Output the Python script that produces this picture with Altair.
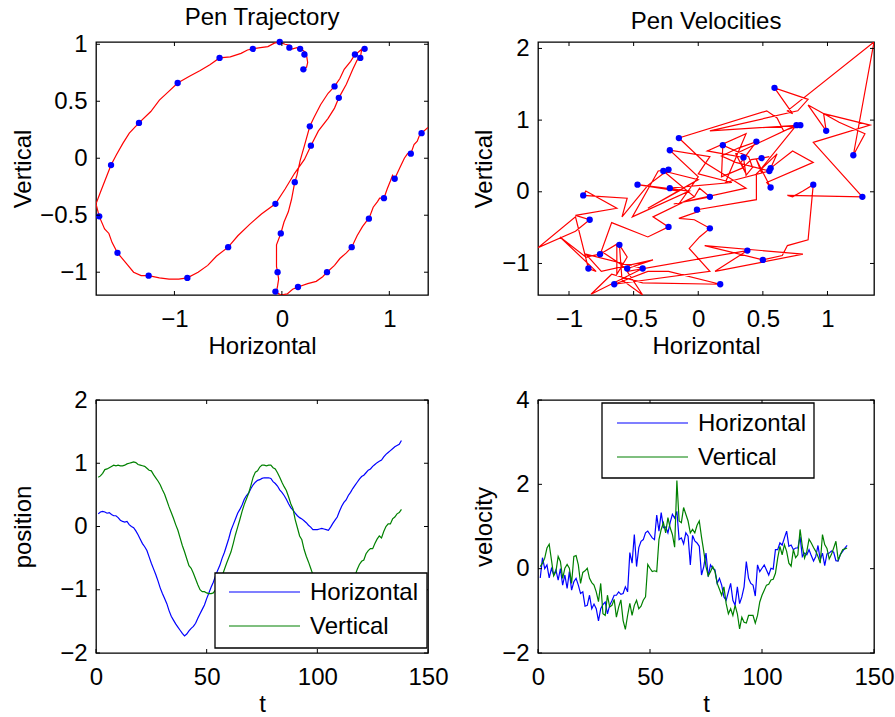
import altair as alt
import pandas as pd

# Sample index of the recorded pen stroke
t = list(range(1, 139))

# Pen position (horizontal / vertical)
pos_h = [0.20, 0.23, 0.24, 0.23, 0.21, 0.22, 0.19, 0.17, 0.17, 0.14,
         0.10, 0.08, 0.07, 0.08, 0.03, 0.00, -0.02, -0.07, -0.13, -0.20,
         -0.27, -0.32, -0.38, -0.48, -0.58, -0.67, -0.76, -0.86, -0.97, -1.06,
         -1.14, -1.22, -1.33, -1.42, -1.48, -1.54, -1.59, -1.64, -1.69, -1.73,
         -1.70, -1.65, -1.61, -1.58, -1.53, -1.45, -1.38, -1.31, -1.24, -1.14,
         -1.05, -0.96, -0.88, -0.78, -0.69, -0.61, -0.50, -0.41, -0.30, -0.19,
         -0.06, 0.03, 0.12, 0.21, 0.27, 0.34, 0.43, 0.49, 0.53, 0.60,
         0.66, 0.70, 0.73, 0.74, 0.76, 0.77, 0.77, 0.77, 0.76, 0.71,
         0.68, 0.64, 0.58, 0.54, 0.49, 0.43, 0.36, 0.30, 0.26, 0.21,
         0.17, 0.14, 0.12, 0.09, 0.06, 0.02, -0.01, -0.05, -0.05, -0.05,
         -0.04, -0.03, -0.04, -0.05, -0.06, -0.01, 0.05, 0.10, 0.15, 0.24,
         0.32, 0.38, 0.42, 0.49, 0.54, 0.60, 0.65, 0.70, 0.75, 0.79,
         0.81, 0.85, 0.89, 0.91, 0.95, 0.98, 1.01, 1.03, 1.05, 1.10,
         1.14, 1.17, 1.20, 1.23, 1.26, 1.28, 1.30, 1.36]
pos_v = [0.78, 0.80, 0.84, 0.90, 0.91, 0.93, 0.95, 0.97, 0.96, 0.97,
         0.96, 0.96, 0.97, 0.99, 1.00, 1.01, 1.02, 1.01, 0.98, 0.97,
         0.96, 0.95, 0.92, 0.89, 0.88, 0.82, 0.77, 0.72, 0.66, 0.58,
         0.51, 0.41, 0.31, 0.22, 0.13, 0.03, -0.06, -0.18, -0.30, -0.40,
         -0.51, -0.62, -0.66, -0.74, -0.83, -0.92, -1.00, -1.03, -1.03, -1.05,
         -1.06, -1.06, -1.05, -1.00, -0.94, -0.86, -0.78, -0.68, -0.58, -0.49,
         -0.40, -0.27, -0.13, -0.01, 0.11, 0.24, 0.35, 0.44, 0.53, 0.65,
         0.78, 0.86, 0.88, 0.94, 0.97, 0.97, 0.96, 0.97, 0.97, 0.93,
         0.91, 0.85, 0.78, 0.70, 0.63, 0.57, 0.47, 0.36, 0.28, 0.11,
         -0.02, -0.15, -0.21, -0.36, -0.47, -0.56, -0.66, -0.76, -0.87, -0.95,
         -1.00, -1.06, -1.12, -1.17, -1.17, -1.20, -1.19, -1.15, -1.13, -1.10,
         -1.08, -1.04, -1.00, -0.94, -0.88, -0.83, -0.78, -0.68, -0.60, -0.55,
         -0.53, -0.43, -0.38, -0.35, -0.35, -0.27, -0.20, -0.15, -0.18, -0.08,
         0.00, 0.04, 0.04, 0.12, 0.15, 0.20, 0.22, 0.27]

# Pen velocity (horizontal / vertical)
vel_h = [-0.22, 0.26, 0.00, 0.09, -0.22, 0.00, -0.15, -0.03, -0.27, 0.00,
         -0.39, -0.15, -0.47, -0.07, -0.51, -0.31, -0.23, -0.39, -0.59, -0.55,
         -0.89, -0.87, -0.63, -0.95, -0.84, -0.95, -1.24, -0.95, -0.85, -0.79,
         -1.07, -0.87, -0.76, -0.63, -0.63, -0.55, -0.61, -0.59, -0.43, -0.55,
         0.38, 0.13, 0.81, 0.05, 0.50, 0.65, 0.69, 0.85, 0.89, 0.81,
         0.73, 0.69, 1.27, 0.89, 1.33, 0.97, 0.99, 0.85, 1.09, 1.29,
         1.20, 1.36, 0.69, 0.73, 0.59, 0.85, 0.77, 0.09, 0.79, 0.66,
         0.61, 0.53, -0.15, 0.05, 0.37, -0.19, 0.09, 0.01, -0.03, -0.35,
         -0.23, -0.39, -0.67, -0.75, -0.55, -0.35, -0.75, -0.87, -0.43, -0.83,
         -0.67, -0.43, 0.17, -0.23, -0.35, -0.39, -0.65, 0.09, -0.07, 0.01,
         0.09, -0.03, -0.15, 0.01, -0.01, 0.45, 0.45, 0.61, 0.56, 0.73,
         0.89, 0.53, 0.56, 0.45, 0.49, 0.49, 0.76, 0.29, 0.37, 0.33,
         0.45, 0.31, 0.18, 0.29, 0.55, 0.21, 0.37, 0.07, 0.35, 0.37,
         0.42, 0.39, 0.19, 0.18, 0.34, 0.41, 0.49, 0.55]
vel_v = [0.05, 0.13, 0.25, 0.49, 0.58, 0.21, -0.17, -0.07, 0.29, 0.17,
         -0.23, 0.01, 0.10, 0.01, -0.35, 0.29, 0.31, 0.09, -0.35, -0.09,
         -0.05, 0.01, -0.23, -0.33, -0.39, -0.55, -0.78, -0.35, -1.07, -1.11,
         -0.63, -0.91, -0.87, -0.73, -1.15, -0.91, -0.74, -1.23, -1.44, -1.11,
         -0.82, -1.11, -0.87, -0.75, -0.95, -0.89, -0.75, -0.67, 0.10, 0.01,
         -0.07, -0.05, -0.07, 0.69, 0.93, 1.09, 0.85, 1.21, 0.97, 0.81,
         0.51, 2.09, 1.13, 1.09, 1.45, 1.29, 1.13, 0.85, 0.93, 0.85,
         1.03, 1.13, 0.75, 0.41, 0.05, -0.17, -0.07, 0.05, -0.07, -0.35,
         -0.49, -0.63, -0.43, -0.83, -1.07, -0.95, -1.11, -0.87, -1.07, -1.43,
         -1.15, -1.27, -1.29, -1.11, -1.11, -1.11, -1.29, -1.11, -0.79, -0.63,
         -0.51, -0.39, -0.37, -0.27, -0.25, -0.11, 0.25, 0.53, 0.33, 0.57,
         0.41, 0.13, 0.06, 0.45, 0.26, 0.33, 0.93, 0.53, 0.25, 0.41,
         0.70, 0.61, 0.50, 0.41, 0.29, 0.13, 0.81, 0.57, 0.48, 0.23,
         0.34, 0.49, 0.65, 0.21, 0.33, 0.45, 0.47, 0.49]

series = ["Horizontal", "Vertical"]

traj_xticks = [-1, 0, 1]
traj_yticks = [-1, -0.5, 0, 0.5, 1]
vel_xticks = [-1, -0.5, 0, 0.5, 1]
vel_yticks = [-1, 0, 1, 2]
t_ticks = [0, 50, 100, 150]
pos_ticks = [-2, -1, 0, 1, 2]
velt_ticks = [-2, 0, 2, 4]

BLUE, GREEN, RED = "#0000ff", "#008000", "#ff0000"
FONT = "Liberation Sans"
FS = 24
TICK = 4
LW = 1.2

df = pd.DataFrame({"t": t, "ph": pos_h, "pv": pos_v, "vh": vel_h, "vv": vel_v})
marked = df.iloc[::4]


def x_axis(title, values):
    return alt.Axis(title=title, values=values, format=".2~f", grid=False, ticks=False,
                    domain=False, labelPadding=12, titlePadding=3, labelFlush=False)


def y_axis(title, values, tx):
    return alt.Axis(title=title, values=values, format=".2~f", grid=False, ticks=False,
                    domain=False, labelPadding=9, labelFlush=False,
                    titleX=tx, titleBaseline="middle")


def tight(col):
    return alt.Scale(domain=[min(df[col]), max(df[col])], nice=False, zero=False)


def inner_ticks(xvals, yvals, xscale, yscale, xax, yax, w, h):
    """Short inward tick marks on all four sides of the frame."""
    xt = alt.Chart(pd.DataFrame({"v": xvals})).mark_rule(color="black", strokeWidth=1)
    yt = alt.Chart(pd.DataFrame({"v": yvals})).mark_rule(color="black", strokeWidth=1)
    xe = alt.X("v:Q", scale=xscale, axis=xax)
    ye = alt.Y("v:Q", scale=yscale, axis=yax)
    return [
        xt.encode(x=xe, y=alt.value(h), y2=alt.value(h - TICK)),
        xt.encode(x=xe, y=alt.value(0), y2=alt.value(TICK)),
        yt.encode(y=ye, x=alt.value(0), x2=alt.value(TICK)),
        yt.encode(y=ye, x=alt.value(w), x2=alt.value(w - TICK)),
    ]


def legend_box(x0, x1, y0, y1, lx0, lx1, tx, rows):
    one = pd.DataFrame({"k": [0]})
    parts = [alt.Chart(one).mark_rect(fill="white", stroke="black", strokeWidth=1.3).encode(
        x=alt.value(x0), x2=alt.value(x1), y=alt.value(y0), y2=alt.value(y1))]
    for name, color, yy in zip(series, [BLUE, GREEN], rows):
        parts.append(alt.Chart(one).mark_rule(color=color, strokeWidth=LW).encode(
            x=alt.value(lx0), x2=alt.value(lx1), y=alt.value(yy)))
        parts.append(alt.Chart(pd.DataFrame({"label": [name]})).mark_text(
            align="left", baseline="middle", font=FONT, fontSize=FS, color="black").encode(
            x=alt.value(tx), y=alt.value(yy + 1), text="label:N"))
    return parts


def title(text):
    return alt.TitleParams(text, font=FONT, fontSize=FS, fontWeight="normal", offset=2, color="black")


WL, WR, H = 332, 336, 253

# Pen trajectory: vertical against horizontal position
sx, sy = tight("ph"), tight("pv")
ax_x, ax_y = x_axis("Horizontal", traj_xticks), y_axis("Vertical", traj_yticks, -73)
traj = alt.layer(
    alt.Chart(df).mark_line(color=RED, strokeWidth=LW, clip=True).encode(
        x=alt.X("ph:Q", scale=sx, axis=ax_x), y=alt.Y("pv:Q", scale=sy, axis=ax_y), order="t:Q"),
    alt.Chart(marked).mark_circle(color=BLUE, size=40, opacity=1).encode(
        x=alt.X("ph:Q", scale=sx, axis=ax_x), y=alt.Y("pv:Q", scale=sy, axis=ax_y)),
    *inner_ticks(traj_xticks, traj_yticks, sx, sy, ax_x, ax_y, WL, H),
).properties(width=WL, height=H, title=title("Pen Trajectory"))

# Pen velocities: vertical against horizontal velocity
vx, vy = tight("vh"), tight("vv")
bx_x, bx_y = x_axis("Horizontal", vel_xticks), y_axis("Vertical", vel_yticks, -54)
vel = alt.layer(
    alt.Chart(df).mark_line(color=RED, strokeWidth=LW, clip=True).encode(
        x=alt.X("vh:Q", scale=vx, axis=bx_x), y=alt.Y("vv:Q", scale=vy, axis=bx_y), order="t:Q"),
    alt.Chart(marked).mark_circle(color=BLUE, size=40, opacity=1).encode(
        x=alt.X("vh:Q", scale=vx, axis=bx_x), y=alt.Y("vv:Q", scale=vy, axis=bx_y)),
    *inner_ticks(vel_xticks, vel_yticks, vx, vy, bx_x, bx_y, WR, H),
).properties(width=WR, height=H, title=title("Pen Velocities"))

# Position over time
st = alt.Scale(domain=[0, 150], nice=False)
sp = alt.Scale(domain=[-2, 2], nice=False)
cx_x, cx_y = x_axis("t", t_ticks), y_axis("position", pos_ticks, -73)
pos = alt.layer(
    alt.Chart(df).mark_line(color=BLUE, strokeWidth=LW).encode(
        x=alt.X("t:Q", scale=st, axis=cx_x), y=alt.Y("ph:Q", scale=sp, axis=cx_y)),
    alt.Chart(df).mark_line(color=GREEN, strokeWidth=LW).encode(
        x=alt.X("t:Q", scale=st, axis=cx_x), y=alt.Y("pv:Q", scale=sp, axis=cx_y)),
    *inner_ticks(t_ticks, pos_ticks, st, sp, cx_x, cx_y, WL, H),
    *legend_box(119, 331, 173, 248, 133, 204, 214, [192, 226]),
).properties(width=WL, height=H)

# Velocity over time
st2 = alt.Scale(domain=[0, 150], nice=False)
sv = alt.Scale(domain=[-2, 4], nice=False)
dx_x, dx_y = x_axis("t", t_ticks), y_axis("velocity", velt_ticks, -54)
velt = alt.layer(
    alt.Chart(df).mark_line(color=BLUE, strokeWidth=LW).encode(
        x=alt.X("t:Q", scale=st2, axis=dx_x), y=alt.Y("vh:Q", scale=sv, axis=dx_y)),
    alt.Chart(df).mark_line(color=GREEN, strokeWidth=LW).encode(
        x=alt.X("t:Q", scale=st2, axis=dx_x), y=alt.Y("vv:Q", scale=sv, axis=dx_y)),
    *inner_ticks(t_ticks, velt_ticks, st2, sv, dx_x, dx_y, WR, H),
    *legend_box(64, 276, 3, 78, 79, 150, 160, [23, 57]),
).properties(width=WR, height=H)

chart = alt.concat(
    traj, vel, pos, velt, columns=2, bounds="flush",
    spacing=alt.RowColnumber(row=105, column=110),
).properties(
    padding={"left": 10, "top": 5, "right": 0, "bottom": 2},
    background="white",
).configure_view(
    stroke="black", strokeWidth=1.3
).configure_axis(
    labelFont=FONT, labelFontSize=FS, labelColor="black",
    titleFont=FONT, titleFontSize=FS, titleFontWeight="normal", titleColor="black",
)

chart.save("out.html", embed_options={"renderer": "svg", "actions": False})
